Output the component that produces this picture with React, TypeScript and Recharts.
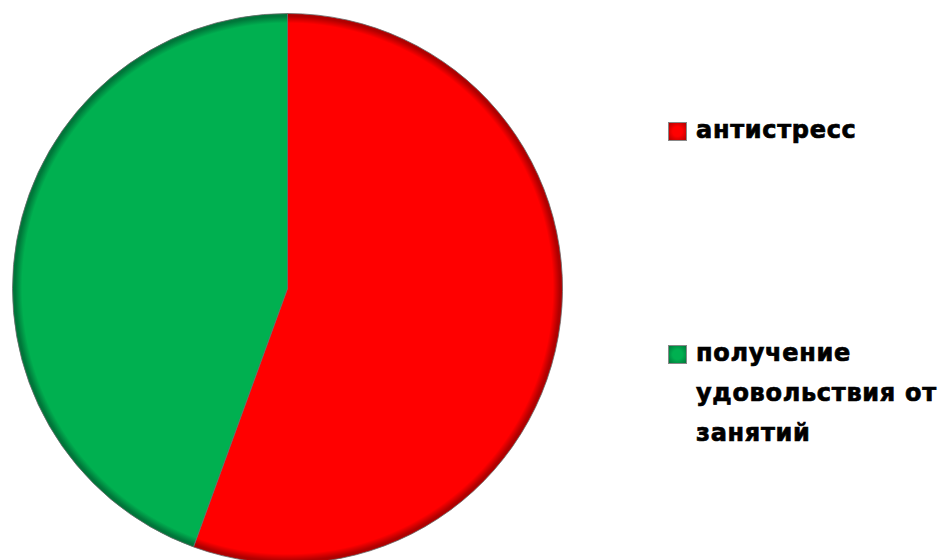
import React from "react";
import { PieChart, Pie, Cell, Legend } from "recharts";

const categories = ["антистресс", "получение удовольствия от занятий"];
const values = [5, 4];
const legendLines = [["антистресс"], ["получение", "удовольствия от", "занятий"]];
const colors = ["#FF0000", "#00B050"];
const darkColors = ["#B00000", "#00773A"];

const data = categories.map((name, i) => ({ name, value: values[i] }));

const CX = 287.5;
const CY = 288.5;
const R = 275;

const LegendContent = () => (
  <div style={{ position: "relative", width: 280, height: 360 }}>
    {legendLines.map((lines, i) => (
      <div
        key={i}
        style={{
          position: "absolute",
          left: 0,
          top: i === 0 ? 0 : 223,
          display: "flex",
          alignItems: "flex-start",
        }}
      >
        <div
          style={{
            width: 19,
            height: 19,
            marginTop: 4,
            marginRight: 9,
            background: `radial-gradient(circle, ${colors[i]} 40%, ${darkColors[i]} 100%)`,
            border: "1px solid #888",
            boxSizing: "border-box",
            flexShrink: 0,
          }}
        />
        <div
          style={{
            fontFamily: "'DejaVu Sans', sans-serif",
            fontWeight: 700,
            fontSize: 24,
            lineHeight: "40px",
            marginTop: -8,
            color: "#000",
            letterSpacing: 0.7,
            WebkitTextStroke: "0.7px #000",
            whiteSpace: "nowrap",
          }}
        >
          {lines.map((l, j) => (
            <div key={j}>{l}</div>
          ))}
        </div>
      </div>
    ))}
  </div>
);

export default function App() {
  return (
    <div style={{ position: "absolute", left: 0, top: 0, width: 948, height: 560, background: "#fff" }}>
      <PieChart width={948} height={560} margin={{ top: 0, right: 0, bottom: 0, left: 0 }}>
        <defs>
          {colors.map((c, i) => (
            <radialGradient key={i} id={`g${i}`} gradientUnits="userSpaceOnUse" cx={CX} cy={CY} r={R}>
              <stop offset="0" stopColor={c} />
              <stop offset="0.965" stopColor={c} />
              <stop offset="0.99" stopColor={darkColors[i]} />
              <stop offset="1" stopColor={darkColors[i]} />
            </radialGradient>
          ))}
        </defs>
        <Pie
          data={data}
          dataKey="value"
          nameKey="name"
          cx={CX}
          cy={CY}
          outerRadius={R}
          startAngle={90}
          endAngle={-270}
          stroke="#6a6a6a"
          strokeWidth={0.8}
          isAnimationActive={false}
        >
          {data.map((d, i) => (
            <Cell key={d.name} fill={`url(#g${i})`} />
          ))}
        </Pie>
        <Legend
          content={<LegendContent />}
          wrapperStyle={{ position: "absolute", left: 668, top: 118, width: 280, height: 360 }}
        />
      </PieChart>
    </div>
  );
}
